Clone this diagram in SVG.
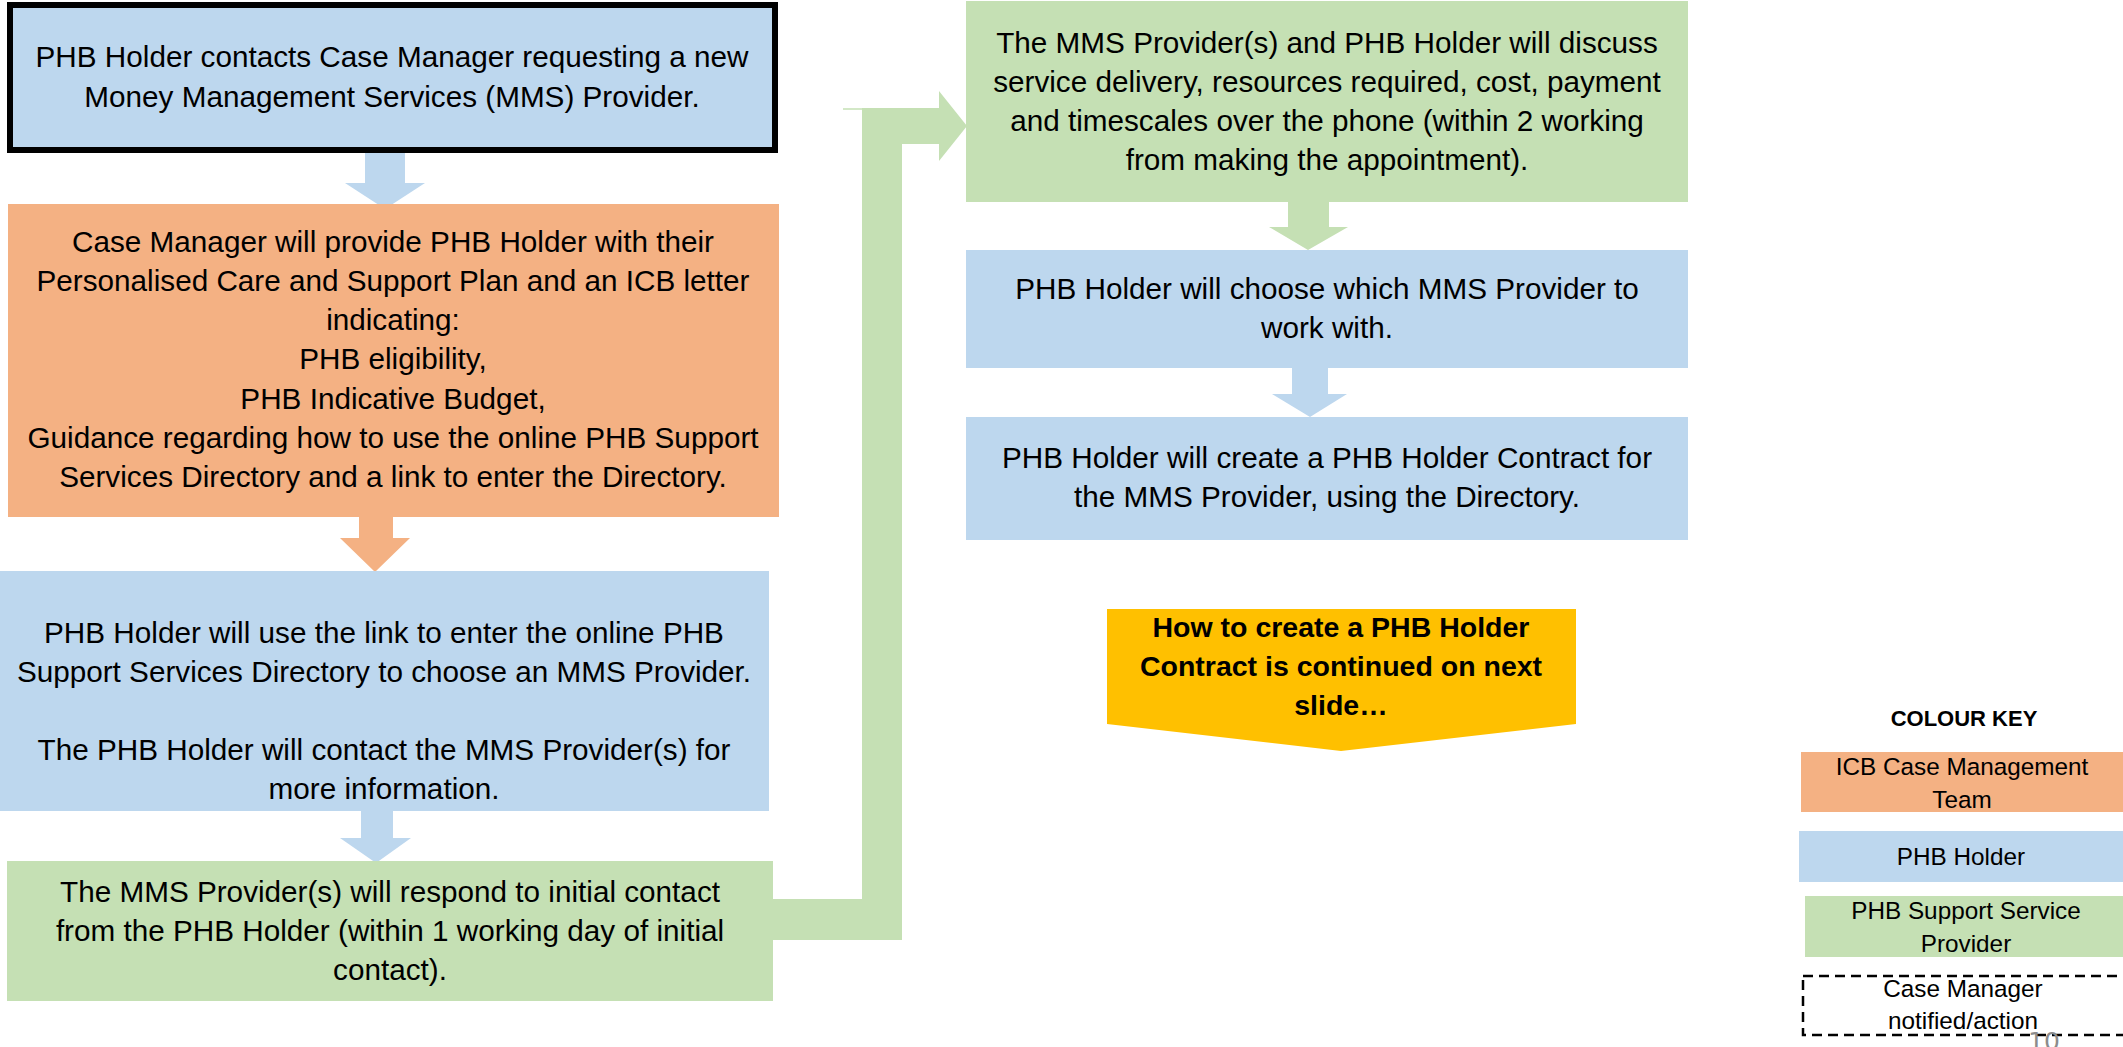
<svg xmlns="http://www.w3.org/2000/svg" width="2123" height="1047" viewBox="0 0 2123 1047">
  <style>
    .blue { fill: #BDD7EE; }
    .orange { fill: #F4B183; }
    .green { fill: #C5E0B4; }
    .gold { fill: #FFC000; }
    .t { font-family: "Liberation Sans", Arial, sans-serif; font-size: 29.7px; fill: #000; text-anchor: middle; }
    .tb { font-family: "Liberation Sans", Arial, sans-serif; font-size: 28.5px; font-weight: bold; fill: #000; text-anchor: middle; }
    .k { font-family: "Liberation Sans", Arial, sans-serif; font-size: 24.3px; fill: #000; text-anchor: middle; }
    .kh { font-family: "Liberation Sans", Arial, sans-serif; font-size: 22px; font-weight: bold; fill: #000; text-anchor: middle; }
  </style>

  <rect width="2123" height="1047" fill="#FFFFFF"/>

  <!-- connectors: block arrows between steps -->
  <g id="connectors">
    <polygon class="blue" points="365,153 405,153 405,183 425,183 385,209 345,183 365,183"/>
    <polygon class="orange" points="359,517 393,517 393,538 410,538 375,572 340,538 359,538"/>
    <polygon class="blue" points="361,811 393,811 393,838 411,838 376,863 340,838 361,838"/>
    <polygon class="green" points="773,899 862,899 862,108 939,108 939,91 967,126 939,161 939,144 902,144 902,940 773,940"/>
    <line x1="843" y1="109" x2="862" y2="109" stroke="#C5E0B4" stroke-width="1.5"/>
    <polygon class="green" points="1288,202 1329,202 1329,227 1348,227 1308,250 1269,227 1288,227"/>
    <polygon class="blue" points="1292,368 1328,368 1328,394 1347,394 1310,417 1272,394 1292,394"/>
  </g>

  <!-- step 1: request -->
  <g id="step-request">
    <rect class="blue" x="10" y="5" width="765" height="145" stroke="#000" stroke-width="6"/>
    <text class="t" x="392" y="67">PHB Holder contacts Case Manager requesting a new</text>
    <text class="t" x="392" y="107">Money Management Services (MMS) Provider.</text>
  </g>

  <!-- step 2: care plan and letter -->
  <g id="step-care-plan">
    <rect class="orange" x="8" y="204" width="771" height="313"/>
    <text class="t" x="393" y="252">Case Manager will provide PHB Holder with their</text>
    <text class="t" x="393" y="291">Personalised Care and Support Plan and an ICB letter</text>
    <text class="t" x="393" y="330">indicating:</text>
    <text class="t" x="393" y="369">PHB eligibility,</text>
    <text class="t" x="393" y="409">PHB Indicative Budget,</text>
    <text class="t" x="393" y="448">Guidance regarding how to use the online PHB Support</text>
    <text class="t" x="393" y="487">Services Directory and a link to enter the Directory.</text>
  </g>

  <!-- step 3: directory search -->
  <g id="step-directory">
    <rect class="blue" x="0" y="571" width="769" height="240"/>
    <text class="t" x="384" y="643">PHB Holder will use the link to enter the online PHB</text>
    <text class="t" x="384" y="682">Support Services Directory to choose an MMS Provider.</text>
    <text class="t" x="384" y="760">The PHB Holder will contact the MMS Provider(s) for</text>
    <text class="t" x="384" y="799">more information.</text>
  </g>

  <!-- step 4: provider response -->
  <g id="step-response">
    <rect class="green" x="7" y="861" width="766" height="140"/>
    <text class="t" x="390" y="902">The MMS Provider(s) will respond to initial contact</text>
    <text class="t" x="390" y="941">from the PHB Holder (within 1 working day of initial</text>
    <text class="t" x="390" y="980">contact).</text>
  </g>

  <!-- step 5: discussion -->
  <g id="step-discuss">
    <rect class="green" x="966" y="1" width="722" height="201"/>
    <text class="t" x="1327" y="53">The MMS Provider(s) and PHB Holder will discuss</text>
    <text class="t" x="1327" y="92">service delivery, resources required, cost, payment</text>
    <text class="t" x="1327" y="131">and timescales over the phone (within 2 working</text>
    <text class="t" x="1327" y="170">from making the appointment).</text>
  </g>

  <!-- step 6: choose provider -->
  <g id="step-choose">
    <rect class="blue" x="966" y="250" width="722" height="118"/>
    <text class="t" x="1327" y="299">PHB Holder will choose which MMS Provider to</text>
    <text class="t" x="1327" y="338">work with.</text>
  </g>

  <!-- step 7: contract -->
  <g id="step-contract">
    <rect class="blue" x="966" y="417" width="722" height="123"/>
    <text class="t" x="1327" y="468">PHB Holder will create a PHB Holder Contract for</text>
    <text class="t" x="1327" y="507">the MMS Provider, using the Directory.</text>
  </g>

  <!-- continuation marker -->
  <g id="continued">
    <polygon class="gold" points="1107,609 1576,609 1576,724 1341,751 1107,724"/>
    <text class="tb" x="1341" y="637">How to create a PHB Holder</text>
    <text class="tb" x="1341" y="676">Contract is continued on next</text>
    <text class="tb" x="1341" y="715">slide…</text>
  </g>

  <!-- colour key -->
  <g id="colour-key">
    <text class="kh" x="1964" y="726">COLOUR KEY</text>
    <rect class="orange" x="1801" y="752" width="340" height="60"/>
    <text class="k" x="1962" y="775">ICB Case Management</text>
    <text class="k" x="1962" y="808">Team</text>
    <rect class="blue" x="1799" y="831" width="340" height="51"/>
    <text class="k" x="1961" y="865">PHB Holder</text>
    <rect class="green" x="1805" y="896" width="340" height="61"/>
    <text class="k" x="1966" y="919">PHB Support Service</text>
    <text class="k" x="1966" y="952">Provider</text>
    <rect x="1803" y="976" width="340" height="59" fill="none" stroke="#000" stroke-width="2.5" stroke-dasharray="10,6"/>
    <text class="k" x="1963" y="997">Case Manager</text>
    <text class="k" x="1963" y="1029">notified/action</text>
  </g>

  <!-- slide number -->
  <text x="2044" y="1050" font-family="DejaVu Sans, sans-serif" font-size="25" fill="#8C8C8C" text-anchor="middle">10</text>
</svg>
